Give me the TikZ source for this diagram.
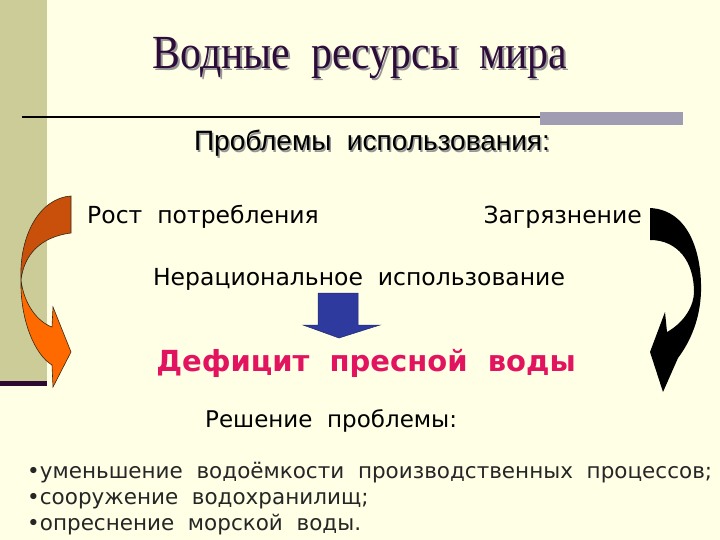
\documentclass[tikz,border=0pt]{standalone}
\usepackage{fontspec}
\setmainfont{DejaVu Sans}
\newfontfamily\titlefont{Liberation Serif}
\newfontfamily\arialfont{Liberation Sans}
\definecolor{bg}{RGB}{255,255,229}
\definecolor{barcol}{RGB}{204,204,153}
\definecolor{darkline}{RGB}{45,10,50}
\definecolor{graybar}{RGB}{160,156,178}
\definecolor{titlecol}{RGB}{45,12,58}
\definecolor{shadowcol}{RGB}{150,150,150}
\definecolor{redtext}{RGB}{226,19,95}
\definecolor{darkorange}{RGB}{200,80,10}
\definecolor{lightorange}{RGB}{255,106,0}
\definecolor{arrowblue}{RGB}{46,58,158}
\tikzset{
  txt/.style={inner sep=0pt, anchor=base},
  body/.style={txt, font=\fontsize{23.5}{27}\selectfont},
  bullet/.style={txt, anchor=base west, font=\fontsize{21.5}{25}\selectfont, text=black!85},
  orangeedge/.style={draw=black!70!brown, line width=0.6pt},
  titletext/.style={txt, font=\titlefont\fontsize{44}{50}\selectfont, xscale=0.95, yscale=1.08},
  subtext/.style={txt, font=\arialfont\fontsize{28}{32}\selectfont},
}
\begin{document}
\begin{tikzpicture}[x=1pt,y=-1pt]
\fill[bg] (0,0) rectangle (720,540);
\useasboundingbox (0,0) rectangle (720,540);
% left bar
\fill[barcol] (0,0) rectangle (47,381);
\fill[darkline] (0,381) rectangle (47,386);
% rule
\draw[line width=2pt] (22,117) -- (540,117);
\fill[graybar] (540,112) rectangle (683,125);
% title
\node[titletext, text=shadowcol] (titleshadow) at (362,71) {Водные~ ресурсы~ мира};
\node[titletext, text=titlecol] (title) at (360,69) {Водные~ ресурсы~ мира};
% subtitle
\node[subtext, text=shadowcol] (subshadow) at (373.5,152.5) {Проблемы~ использования:};
\node[subtext, text=black] (sub) at (372,151) {Проблемы~ использования:};
% problems
\node[body, anchor=base west] (growth) at (87,223) {Рост~ потребления};
\node[body, anchor=base east] (pollution) at (642,223) {Загрязнение};
\node[body] (irr) at (359,285) {Нерациональное~ использование};
% blue arrow
\fill[arrowblue, draw=arrowblue!70!black, line width=0.5pt]
  (318,293) -- (358,293) -- (358,325) -- (380,325) -- (339,338) -- (303,325) -- (318,325) -- cycle;
% deficit
\node[txt, text=redtext, font=\bfseries\fontsize{29}{34}\selectfont] (deficit) at (366,371) {Дефицит~ пресной~ воды};
% solution
\node[body, anchor=base west, font=\fontsize{23}{27}\selectfont] (solution) at (205,427) {Решение~ проблемы:};
\node[bullet] (b1) at (27,478) {•уменьшение~ водоёмкости~ производственных~ процессов;};
\node[bullet] (b2) at (27,504) {•сооружение~ водохранилищ;};
\node[bullet] (b3) at (27,530) {•опреснение~ морской~ воды.};
% left curved arrow: dark upper part
\filldraw[fill=darkorange, orangeedge]
  (71,196) .. controls (40,198) and (19,235) .. (21,280)
  .. controls (24,255) and (40,237) .. (71,233) -- cycle;
% left curved arrow: light lower part
\filldraw[fill=lightorange, orangeedge]
  (21,280) .. controls (20,320) and (35,355) .. (52,365)
  -- (53,387) -- (71,352) -- (53,307) -- (52,327)
  .. controls (38,322) and (24,305) .. (21,280) -- cycle;
% right curved arrow (black)
\fill[black]
  (650,208) .. controls (690,210) and (702,255) .. (701,292)
  .. controls (700,320) and (690,342) .. (678,358)
  -- (663,392) -- (650,352) -- (665,312) -- (667,332)
  .. controls (685,322) and (694,305) .. (694,292)
  .. controls (694,262) and (678,240) .. (650,240) -- cycle;
\end{tikzpicture}
\end{document}
